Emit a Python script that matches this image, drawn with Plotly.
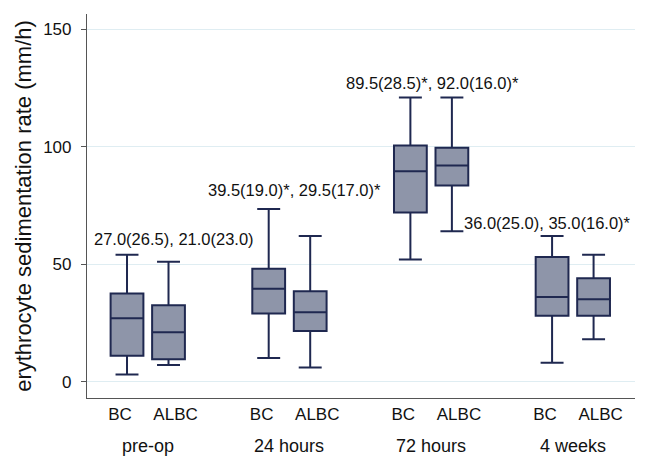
import plotly.graph_objects as go

# ---- data ----
timepoints = ["pre-op", "24 hours", "72 hours", "4 weeks"]
groups = ["BC", "ALBC"]
# order: pre-op BC, pre-op ALBC, 24h BC, 24h ALBC, 72h BC, 72h ALBC, 4w BC, 4w ALBC
lower_whisker = [3, 7, 10, 6, 52, 64, 8, 18]
q1_vals = [11, 9.5, 29, 21.5, 72, 83.5, 28, 28]
median_vals = [27, 21, 39.5, 29.5, 89.5, 92, 36, 35]
q3_vals = [37.5, 32.5, 48, 38.5, 100.5, 99.5, 53, 44]
upper_whisker = [54, 51, 73.5, 62, 121, 121, 62, 54]
summary_labels = [
    "27.0(26.5), 21.0(23.0)",
    "39.5(19.0)*, 29.5(17.0)*",
    "89.5(28.5)*, 92.0(16.0)*",
    "36.0(25.0), 35.0(16.0)*",
]
y_ticks = [0, 50, 100, 150]

# ---- layout helpers ----
GAP = 3.414
FONT = "Liberation Sans, Arial, sans-serif"
FILL = "#8e95a9"
LINE = "#1f2850"
LABEL_SPREAD = 0.17  # tick labels sit slightly outside the box centres

positions = []
tick_pos = []
tick_text = []
for g in range(len(timepoints)):
    for k in range(len(groups)):
        p = g * GAP + k
        positions.append(p)
        tick_pos.append(p + (LABEL_SPREAD if k == 1 else -LABEL_SPREAD))
        tick_text.append(groups[k])

fig = go.Figure()
fig.add_trace(go.Box(
    x=positions,
    q1=q1_vals, median=median_vals, q3=q3_vals,
    lowerfence=lower_whisker, upperfence=upper_whisker,
    width=0.79, whiskerwidth=0.7,
    fillcolor=FILL, line=dict(color=LINE, width=2),
    boxpoints=False, showlegend=False, hoverinfo="skip",
))

# summary text annotations (offset relative to group BC position, y in data units)
label_offsets = [(1.13, 60.5), (0.61, 81.6), (0.54, 127.1), (-0.1, 67.5)]
for g, (txt, (dx, yv)) in enumerate(zip(summary_labels, label_offsets)):
    fig.add_annotation(x=g * GAP + dx, y=yv, xref="x", yref="y", text=txt,
                       showarrow=False, font=dict(family=FONT, size=16.5, color="#111"),
                       xanchor="center", yanchor="middle")

# group labels
for g, tp in enumerate(timepoints):
    fig.add_annotation(x=g * GAP + 0.5, y=-0.125, xref="x", yref="paper", text=tp,
                       showarrow=False, font=dict(family=FONT, size=18, color="#111"),
                       xanchor="center", yanchor="middle")

# page body has an 8px default margin; size the figure so the plot area lands where the reference has it
fig.update_layout(
    width=638, height=448,
    margin=dict(l=79, r=11, t=6, b=58),
    paper_bgcolor="white", plot_bgcolor="white",
    font=dict(family=FONT, color="#111"),
    xaxis=dict(
        range=[-0.964, 12.24], tickvals=tick_pos, ticktext=tick_text,
        showgrid=False, zeroline=False, showline=True, linecolor="#555", linewidth=1.2,
        ticks="", tickangle=0, tickfont=dict(size=17, family=FONT, color="#111"),
        automargin=False,
    ),
    yaxis=dict(
        range=[-7, 156.5], tickvals=y_ticks,
        showgrid=True, gridcolor="#dfedf2", gridwidth=1, zeroline=False,
        showline=True, linecolor="#555", linewidth=1.2,
        ticks="outside", ticklen=5, tickcolor="#555", ticklabelstandoff=6,
        tickfont=dict(size=17, family=FONT, color="#111"),
        title=dict(text="erythrocyte sedimentation rate (mm/h)",
                   font=dict(size=22, family=FONT, color="#111"), standoff=5),
        automargin=False,
    ),
)

fig.write_html("out.html")
